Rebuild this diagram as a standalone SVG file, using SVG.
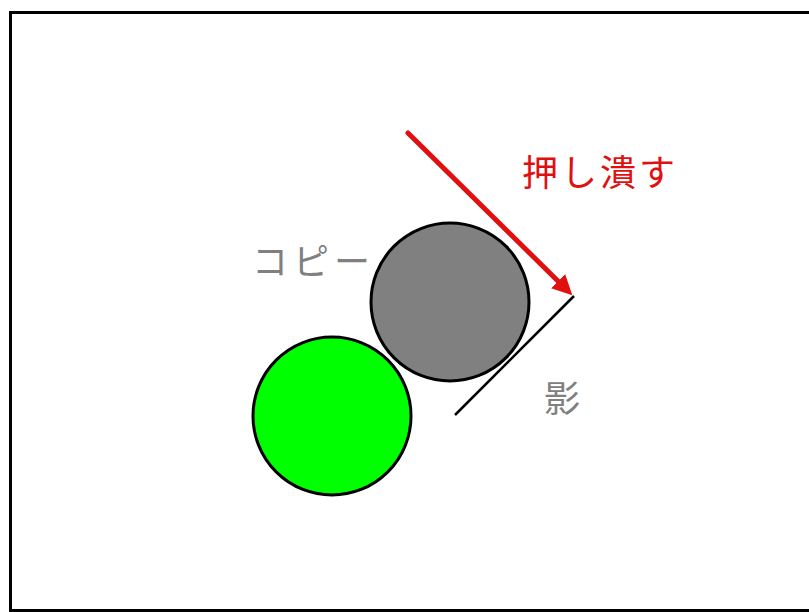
<svg xmlns="http://www.w3.org/2000/svg" width="809" height="612" viewBox="0 0 809 612">
<defs>
<style>
.lbl{font-family:"Noto Sans CJK JP","Liberation Sans",sans-serif;font-size:36px}
.circ{stroke:#000;stroke-width:3}
</style>
<marker id="ah" markerWidth="4" markerHeight="4" refX="2.5" refY="2" orient="auto" markerUnits="strokeWidth">
<path d="M0,0 L4,2 L0,4 Z" fill="#e01010"/>
</marker>
</defs>
<rect x="0" y="0" width="809" height="612" fill="#fff"/>
<rect x="10.5" y="12.5" width="812" height="598" fill="none" stroke="#000" stroke-width="3"/>
<g id="green"><circle class="circ" cx="332" cy="416" r="79" fill="#00ff00"/></g>
<g id="copy"><circle class="circ" cx="450" cy="302" r="79" fill="#808080"/>
<text class="lbl" x="252" y="275" fill="#808080" letter-spacing="5">コピー</text></g>
<g id="connectors">
<line x1="408" y1="133" x2="567" y2="290" stroke="#e01010" stroke-width="5" stroke-linecap="round" marker-end="url(#ah)"/>
<line x1="574" y1="296" x2="455" y2="415" stroke="#000" stroke-width="2.5"/>
</g>
<g id="push"><text class="lbl" x="522" y="186" fill="#e01010" font-size="38" letter-spacing="3">押し潰す</text></g>
<g id="shadow"><text class="lbl" x="544" y="412" fill="#808080">影</text></g>
</svg>
